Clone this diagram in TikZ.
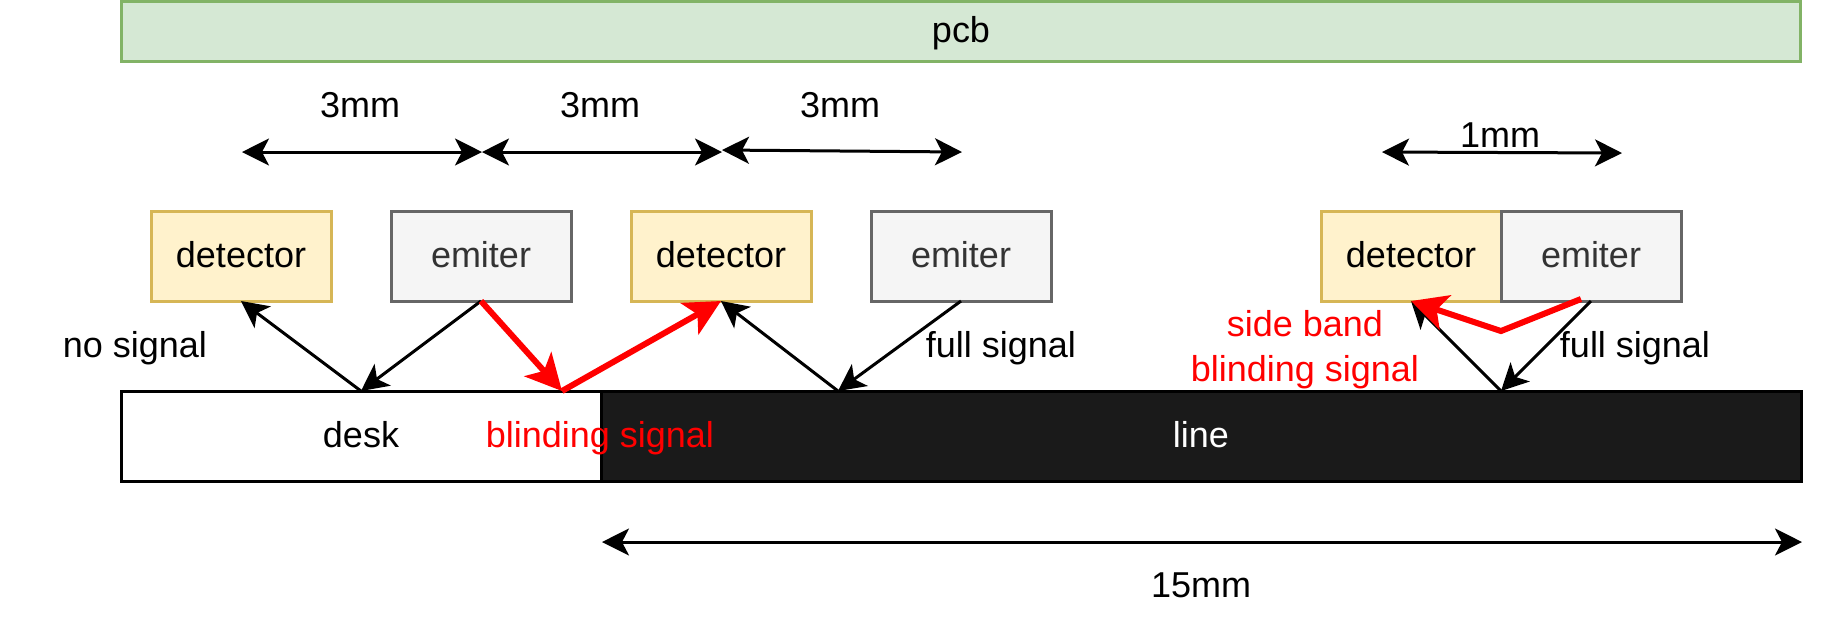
\documentclass[tikz,border=0pt]{standalone}
\usepackage{fontspec}
\setmainfont{Liberation Sans}
\usetikzlibrary{arrows.meta}
\definecolor{pcbfill}{HTML}{D5E8D4}
\definecolor{pcbdraw}{HTML}{82B366}
\definecolor{detfill}{HTML}{FFF2CC}
\definecolor{detdraw}{HTML}{D6B656}
\definecolor{emifill}{HTML}{F5F5F5}
\definecolor{emidraw}{HTML}{666666}
\definecolor{emitext}{HTML}{333333}
\definecolor{linefill}{HTML}{1A1A1A}
\tikzset{
txt/.style={
  inner sep=0pt,
  outer sep=0pt,
  align=center,
  font=\fontsize{10.24}{12.76}\selectfont
  },
lbl/.style={
  txt,
  text height=8.3pt,
  text depth=1.8pt
  },
box/.style={
  lbl,
  rectangle,
  line width=0.3mm,
  minimum height=9mm
  },
det/.style={
  box,
  minimum width=18mm,
  draw=detdraw,
  fill=detfill
  },
emi/.style={
  box,
  minimum width=18mm,
  draw=emidraw,
  fill=emifill,
  text=emitext
  },
blind/.style={
  line width=0.6mm,
  draw=red,
  >={Stealth[length=3.6mm,width=3.6mm,inset=0.9mm]}
  }
}

\begin{document}
\begin{tikzpicture}[x=0.1mm,y=-0.1mm,->,>={Stealth[length=2.7mm,width=2.7mm,inset=0.7mm]},line width=0.3mm]
        \useasboundingbox (0,0) rectangle (1830,633);
        \node[box,draw=pcbdraw,fill=pcbfill,minimum width=168mm,minimum height=6mm] at (961,31) (pcb) {pcb};
        \node[box,draw=black,fill=white,minimum width=48mm] at (361,436) (desk) {desk};
        \node[box,draw=black,fill=linefill,text=white,minimum width=120mm] at (1201,436) (line) {line};

        \node[det] at (241,256) (d1) {detector};
        \node[emi] at (481,256) (e1) {emiter};
        \node[det] at (721,256) (d2) {detector};
        \node[emi] at (961,256) (e2) {emiter};
        \node[det] at (1411,256) (d3) {detector};
        \node[emi] at (1591,256) (e3) {emiter};

        \node[lbl] at (360,106) (t1) {3mm};
        \node[lbl] at (600,106) (t2) {3mm};
        \node[lbl] at (840,106) (t3) {3mm};
        \node[lbl] at (1500,136) (t4) {1mm};
        \node[lbl] at (1201,586) (t5) {15mm};
        \node[lbl] at (135,346) (nosig) {no signal};
        \node[lbl] at (1001,346) (full1) {full signal};
        \node[lbl] at (1635,346) (full2) {full signal};
        \node[txt,text=red] at (1305,350) (side) {side band\\blinding signal};

        % dimension ends
        \coordinate (a1) at (242,152);
        \coordinate (a2) at (482,152);
        \coordinate (a3) at (722,152);
        \coordinate (a3b) at (722,150);
        \coordinate (a4) at (962,152);
        \coordinate (a5) at (1382,152);
        \coordinate (a6) at (1622,153);
        \coordinate (a7) at (602,542);
        \coordinate (a8) at (1802,542);
        % points on the surface
        \coordinate (p1) at (361,391);
        \coordinate (p2) at (562,391);
        \coordinate (p3) at (838,391);
        \coordinate (p4) at (1501,391);
        \coordinate (r1) at (1581,299);
        \coordinate (r2) at (1501,331);

        \path[<->]
        (a1) edge [] (a2)
        (a2) edge [] (a3)
        (a3b) edge [] (a4)
        (a5) edge [] (a6)
        (a7) edge [] (a8)
        ;
        \path[->]
        (p1) edge [] (d1.south)
        (e1.south) edge [] (p1)
        (e1.south) edge [blind] (p2)
        (p2) edge [blind] (d2.south)
        (p3) edge [] (d2.south)
        (e2.south) edge [] (p3)
        (p4) edge [] (d3.south)
        (e3.south) edge [] (p4)
        ;
        \draw[blind,->] (r1) -- (r2) -- (d3.south);
        \node[lbl,text=red] at (600,436) (blindtxt) {blinding signal};
    \end{tikzpicture}
\end{document}
